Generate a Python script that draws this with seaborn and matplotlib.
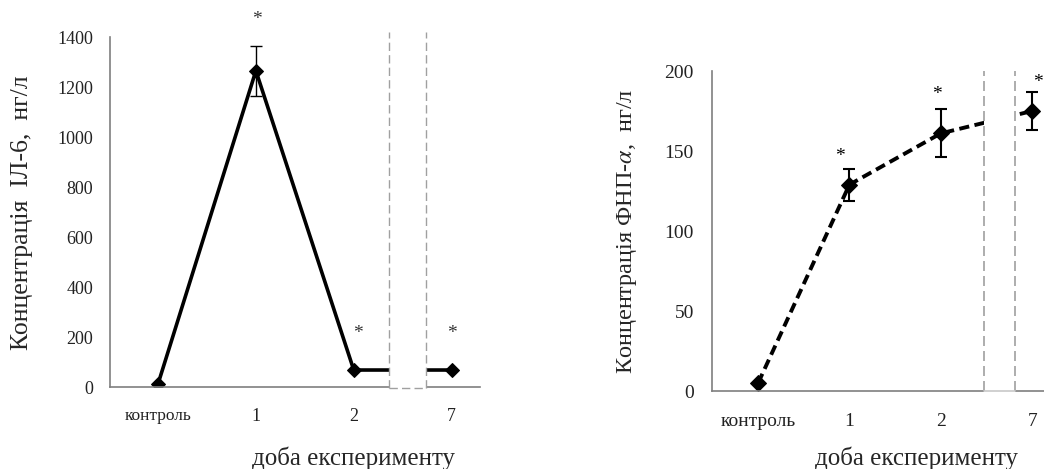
import numpy as np
import seaborn as sns
import matplotlib.pyplot as plt
from matplotlib.patches import Rectangle

# values
days = ["контроль", "1", "2", "7"]
il6 = [12, 1265, 68, 68]
il6_err = [0, 100, 0, 0]
tnf = [5, 129, 161, 175]
tnf_err = [0, 10, 15, 12]
il6_stars = [False, True, True, True]
tnf_stars = [False, True, True, True]

sns.set_style("white")
plt.rcParams['font.family'] = ['Liberation Serif', 'DejaVu Serif']
plt.rcParams['mathtext.fontset'] = 'stix'

fig = plt.figure(figsize=(10.44, 4.69), dpi=100)
ax1 = fig.add_axes([0.1054, 0.1748, 0.3544, 0.7463])
ax2 = fig.add_axes([0.682, 0.1663, 0.318, 0.6823])

pos = np.arange(len(days))
gray = '#7f7f7f'


def style_axes(ax, xlim, ylim, yticks, ypad, xpad, fs):
    ax.set_xlim(*xlim)
    ax.set_ylim(*ylim)
    ax.set_yticks(yticks)
    ax.set_xticks(pos)
    ax.set_xticklabels(days)
    ax.tick_params(length=0, labelsize=fs, labelcolor='#222222')
    ax.tick_params(axis='y', pad=ypad)
    ax.tick_params(axis='x', pad=xpad)
    for s in ['top', 'right']:
        ax.spines[s].set_visible(False)
    for s in ['left', 'bottom']:
        ax.spines[s].set_color(gray)
        ax.spines[s].set_linewidth(1.2)
    ax.grid(False)


# ---- left panel: IL-6
sns.lineplot(x=pos, y=il6, ax=ax1, color='black', lw=2.6, marker='D',
             markersize=7.5, markeredgecolor='black', sort=False)
e = np.array(il6_err) > 0
ax1.errorbar(pos[e], np.array(il6)[e], yerr=np.array(il6_err)[e], fmt='none',
             ecolor='black', elinewidth=1, capsize=4, capthick=1)
style_axes(ax1, (-0.49, 3.29), (0, 1400), range(0, 1401, 200), 12, 15, 13)
ax1.get_xticklabels()[0].set_fontsize(12.5)

# broken-axis box
ax1.add_patch(Rectangle((2.357, -3), 0.378, 1425, facecolor='white',
                        edgecolor='none', zorder=5, clip_on=False))
for xx in (2.357, 2.735):
    ax1.plot([xx, xx], [-3, 1422], color='#a0a0a0', lw=1, ls=(0, (6, 3)),
             zorder=6, clip_on=False)
ax1.plot([2.357, 2.735], [-3, -3], color='#a0a0a0', lw=1, ls=(0, (6, 3)),
         zorder=6, clip_on=False)

il6_dy = [0, 19, 26, 26]
il6_dx = [0, 1, 3, 0]
for i in range(len(days)):
    if il6_stars[i]:
        ax1.annotate('*', (pos[i], il6[i] + il6_err[i]), xytext=(il6_dx[i], il6_dy[i]),
                     textcoords='offset points', ha='center', va='center',
                     fontsize=14, color='#333333', annotation_clip=False)

ax1.set_ylabel('Концентрація  ІЛ-6,  нг/л', fontsize=18.5)
ax1.yaxis.set_label_coords(-0.238, 0.497)
ax1.yaxis.label.set_va('center')
ax1.set_xlabel('доба експерименту', fontsize=18)
ax1.xaxis.set_label_coords(0.657, -0.203)
ax1.xaxis.label.set_va('center')

# ---- right panel: TNF-alpha
sns.lineplot(x=pos, y=tnf, ax=ax2, color='black', lw=2.8, marker='D',
             markersize=8.5, markeredgecolor='black', sort=False)
ax2.lines[0].set_linestyle((0, (2.6, 1.4)))
e = np.array(tnf_err) > 0
ax2.errorbar(pos[e], np.array(tnf)[e], yerr=np.array(tnf_err)[e], fmt='none',
             ecolor='black', elinewidth=1.5, capsize=4, capthick=1.5)
style_axes(ax2, (-0.505, 3.13), (0, 200), range(0, 201, 50), 13, 16, 14)

ax2.add_patch(Rectangle((2.475, -0.5), 0.34, 201, facecolor='white',
                        edgecolor='none', zorder=5, clip_on=False))
for xx in (2.475, 2.815):
    ax2.plot([xx, xx], [0, 200], color='#a0a0a0', lw=1.2, ls=(0, (6, 3)),
             zorder=6, clip_on=False)
ax2.plot([2.475, 2.815], [0, 0], color='#c8c8c8', lw=1.2, zorder=6, clip_on=False)

tnf_dy = [0, 9, 11, 7]
tnf_dx = [0, -7, -3, 4]
for i in range(len(days)):
    if tnf_stars[i]:
        ax2.annotate('*', (pos[i], tnf[i] + tnf_err[i]), xytext=(tnf_dx[i], tnf_dy[i]),
                     textcoords='offset points', ha='center', va='center',
                     fontsize=14, color='black', annotation_clip=False)

ax2.set_ylabel('Концентрація ФНП-$\\alpha$,  нг/л', fontsize=17.5)
ax2.yaxis.set_label_coords(-0.256, 0.5)
ax2.yaxis.label.set_va('center')
ax2.set_xlabel('доба експерименту', fontsize=18)
ax2.xaxis.set_label_coords(0.617, -0.209)
ax2.xaxis.label.set_va('center')

fig.savefig('out.png', dpi=100)
